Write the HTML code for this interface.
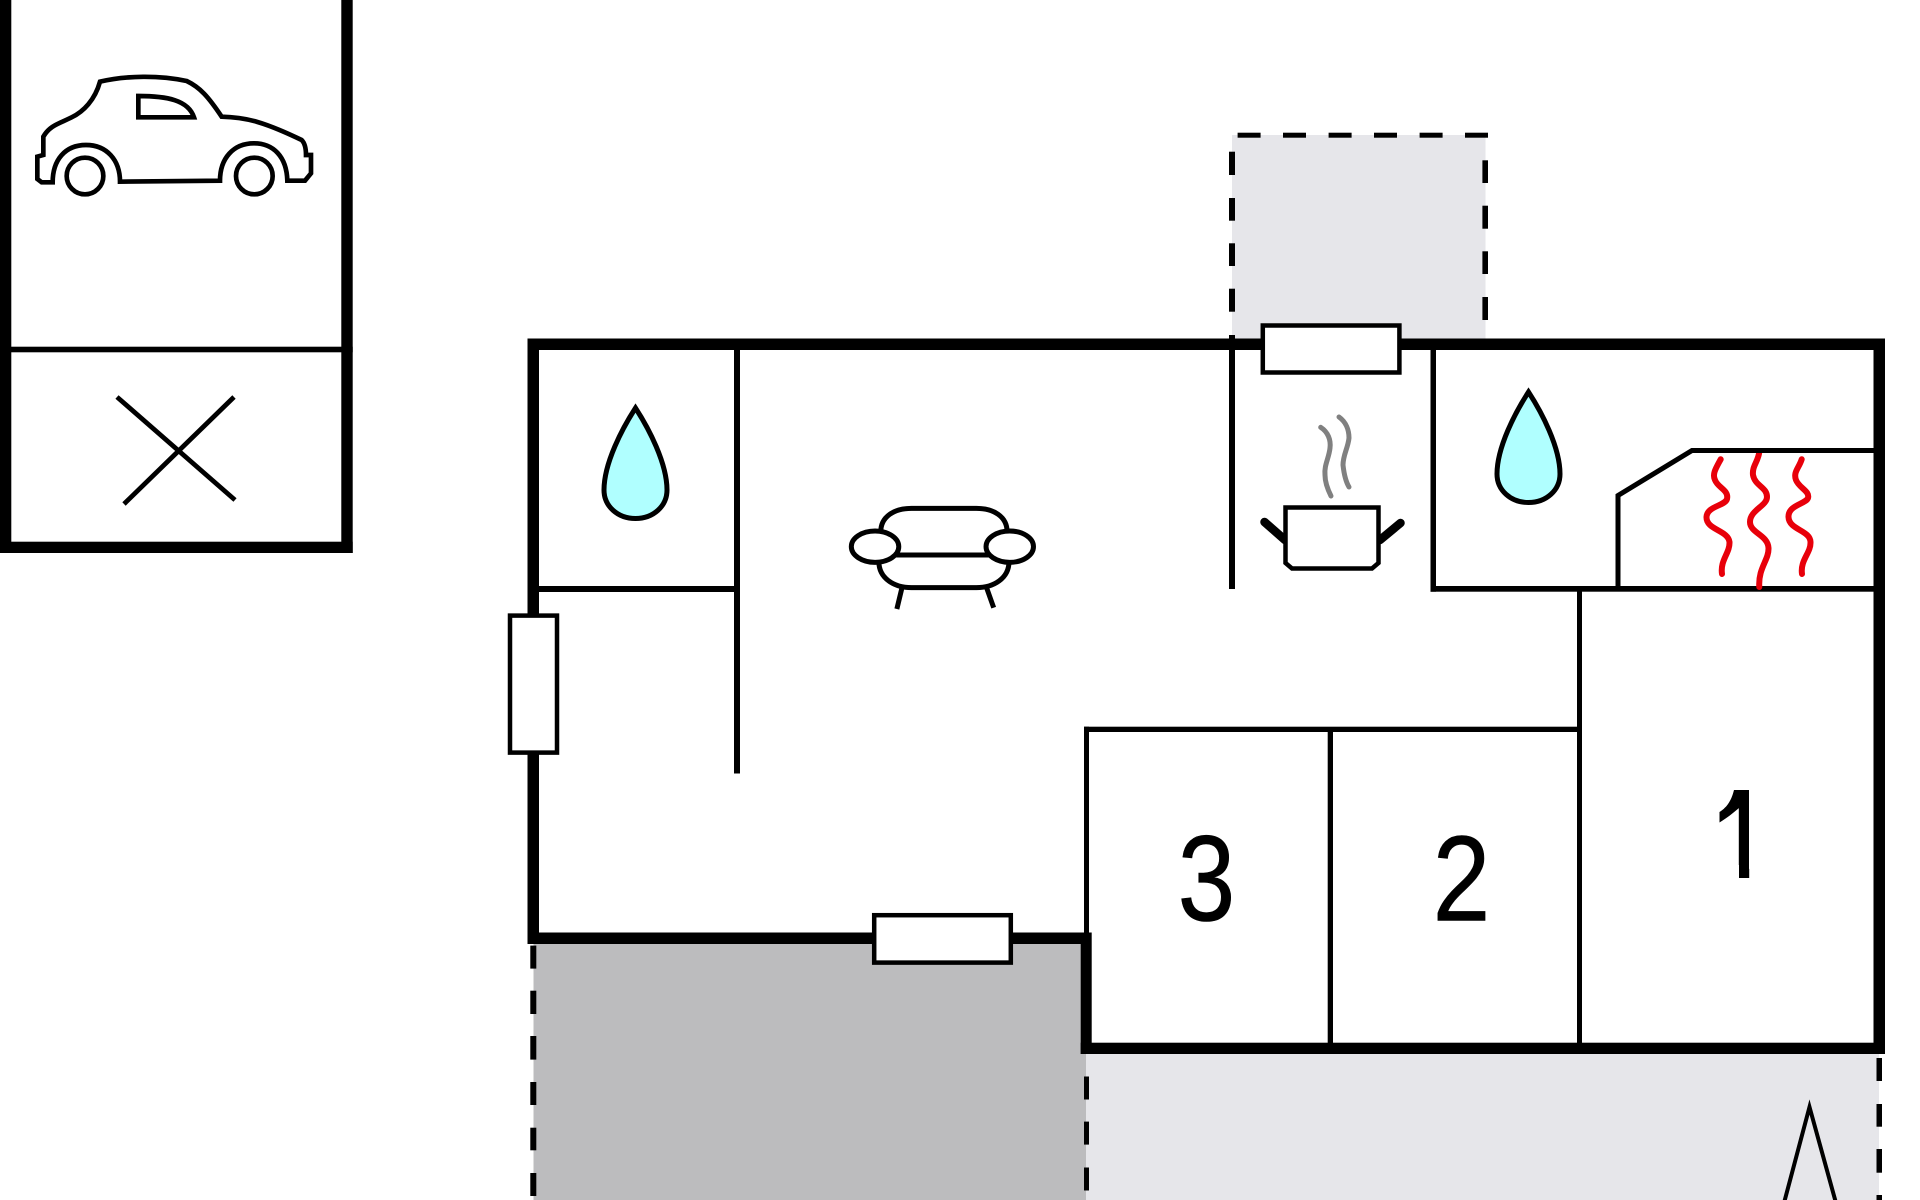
<!DOCTYPE html>
<html><head><meta charset="utf-8"><style>html,body{margin:0;padding:0;background:#fff}svg{display:block}</style></head>
<body>
<svg xmlns="http://www.w3.org/2000/svg" width="1920" height="1200" viewBox="0 0 1920 1200">
<rect width="1920" height="1200" fill="#fff"/>
<!-- areas -->
<rect x="1232" y="135" width="253.5" height="205" fill="#e6e6ea"/>
<rect x="1086" y="1050" width="793" height="150" fill="#e6e6ea"/>
<rect x="533.5" y="940" width="552.5" height="260" fill="#bcbcbe"/>
<!-- garage -->
<g fill="#000">
<rect x="0" y="0" width="11.3" height="553"/>
<rect x="341.3" y="0" width="11.4" height="553"/>
<rect x="0" y="541.7" width="352.7" height="11.3"/>
<rect x="0" y="346.7" width="352.7" height="5.6"/>
</g>
<path d="M117 397L235 500M234 397L124 504" stroke="#000" stroke-width="4.8" fill="none"/>
<g transform="scale(.33333)" fill="none" stroke="#000" stroke-width="14">
<path d="M130 465V410C150 375 180 370 215 352C250 335 285 300 300 245C380 226 480 226 560 243C600 262 625 290 665 350C740 352 790 365 905 420C915 430 918 445 918 465H933V520L915 542H862C860 470 820 430 762 430C700 430 660 475 660 542L360 545C360 480 320 435 258 435C195 435 158 480 158 547H125L112 537V470Z"/>
<path d="M415 288C500 288 565 300 582 352H415Z"/>
<circle cx="255" cy="528" r="55"/>
<circle cx="763" cy="528" r="55"/>
</g>
<!-- walls -->
<g fill="#000">
<rect x="527.5" y="338.5" width="1357.5" height="11.5"/>
<rect x="527.5" y="338.5" width="11.5" height="605.5"/>
<rect x="527.5" y="932.5" width="564" height="11.5"/>
<rect x="1080.7" y="932.5" width="11" height="121.5"/>
<rect x="1080.7" y="1042.7" width="804.3" height="11.3"/>
<rect x="1873.5" y="338.5" width="11.5" height="715.5"/>
<!-- partitions -->
<rect x="734" y="350" width="6" height="423.5"/>
<rect x="539" y="586" width="195" height="6"/>
<rect x="1229" y="335" width="6" height="254"/>
<rect x="1430.5" y="350" width="5.5" height="241.7"/>
<rect x="1430.5" y="586" width="443" height="5.7"/>
<rect x="1577" y="590" width="5" height="453"/>
<rect x="1084" y="726.7" width="494" height="5.3"/>
<rect x="1084" y="726.7" width="5" height="206"/>
<rect x="1327.7" y="732" width="5.3" height="311"/>
<!-- dashes top area -->
<rect x="1237.6" y="132.7" width="23" height="5"/>
<rect x="1283" y="132.7" width="23" height="5"/>
<rect x="1328.6" y="132.7" width="23" height="5"/>
<rect x="1374" y="132.7" width="23" height="5"/>
<rect x="1419.6" y="132.7" width="23" height="5"/>
<rect x="1465" y="132.7" width="23" height="5"/>
<rect x="1229" y="151.7" width="6" height="23.3"/>
<rect x="1229" y="198" width="6" height="22.7"/>
<rect x="1229" y="243.3" width="6" height="22.7"/>
<rect x="1229" y="288.7" width="6" height="23"/>
<rect x="1482.4" y="160.3" width="5.6" height="22.7"/>
<rect x="1482.4" y="205.7" width="5.6" height="23"/>
<rect x="1482.4" y="251.3" width="5.6" height="22.7"/>
<rect x="1482.4" y="297" width="5.6" height="23"/>
<!-- dashes left -->
<rect x="530.3" y="945.6" width="6" height="23"/>
<rect x="530.3" y="990.7" width="6" height="23.3"/>
<rect x="530.3" y="1036" width="6" height="23.6"/>
<rect x="530.3" y="1082" width="6" height="23"/>
<rect x="530.3" y="1127.7" width="6" height="22.6"/>
<rect x="530.3" y="1173" width="6" height="23"/>
<!-- dashes middle -->
<rect x="1084" y="1076.5" width="5" height="23"/>
<rect x="1084" y="1121.6" width="5" height="23"/>
<rect x="1084" y="1167.5" width="5" height="23"/>
<!-- dashes right -->
<rect x="1876.5" y="1058" width="5.5" height="23"/>
<rect x="1876.5" y="1104" width="5.5" height="22.7"/>
<rect x="1876.5" y="1149" width="5.5" height="23.7"/>
<rect x="1876.5" y="1195" width="5.5" height="5"/>
</g>
<!-- windows -->
<g fill="#fff" stroke="#000" stroke-width="4.5">
<rect x="510" y="615.6" width="47" height="137"/>
<rect x="874.2" y="915.2" width="136.6" height="47.4"/>
<rect x="1262.8" y="325.5" width="136.6" height="47"/>
</g>
<!-- drops -->
<g fill="#b0ffff" stroke="#000" stroke-width="5" stroke-linejoin="miter">
<path transform="translate(635.5 408)" d="M0 0C13 20 31.5 55 31.5 82C31.5 98 18 110.5 0 110.5C-18 110.5 -31.5 98 -31.5 82C-31.5 55 -13 20 0 0Z"/>
<path transform="translate(1528.5 392)" d="M0 0C13 20 31.5 55 31.5 82C31.5 98 18 110.5 0 110.5C-18 110.5 -31.5 98 -31.5 82C-31.5 55 -13 20 0 0Z"/>
</g>
<!-- sofa -->
<g transform="translate(500 320) scale(.3827 .33333)" fill="none" stroke="#000">
<path vector-effect="non-scaling-stroke" stroke-width="5" d="M995 635C995 590 1030 565 1075 565H1245C1290 565 1325 590 1325 635"/>
<path vector-effect="non-scaling-stroke" stroke-width="5" d="M990 725C990 775 1030 803 1075 803H1245C1290 803 1330 775 1330 725"/>
<path vector-effect="non-scaling-stroke" stroke-width="5" d="M1035 705H1280"/>
<ellipse vector-effect="non-scaling-stroke" stroke-width="5" cx="980" cy="680" rx="62" ry="47" fill="#fff"/>
<ellipse vector-effect="non-scaling-stroke" stroke-width="5" cx="1332" cy="680" rx="62" ry="47" fill="#fff"/>
<path vector-effect="non-scaling-stroke" stroke-width="5" d="M1050 805L1037 867M1272 805L1290 863"/>
</g>
<!-- pot -->
<path d="M1264.5 522L1285 540M1400.5 523L1380 540" stroke="#000" stroke-width="8.5" stroke-linecap="round" fill="none"/>
<path d="M1285.5 507.5H1378.5V563L1372 568.5H1292L1285.5 563Z" fill="#fff" stroke="#000" stroke-width="4.5"/>
<g fill="none" stroke="#808080" stroke-width="5" stroke-linecap="round">
<path d="M1320.7 427.3C1328 432 1331 440 1330 448C1329 458 1324 465 1325 475C1325 483 1328 490 1331 496"/>
<path d="M1339 417C1346 422 1349 430 1349 438C1348 448 1343 455 1343 465C1344 474 1346 482 1349 487"/>
</g>
<!-- heat -->
<g fill="none" stroke="#e8000a" stroke-width="6" stroke-linecap="round">
<path d="M1720.7 459.3C1716 468 1712 474 1715 480C1718 488 1729 490 1727 499C1725 506 1707 506 1706.5 517C1706 530 1728 530 1729.5 542C1730 553 1720 560 1722 574"/>
<path d="M1759.3 452C1758 462 1752 466 1753 475C1755 486 1767 487 1767 497C1767 506 1750 510 1750 522C1750 533 1768 535 1768.5 548C1769 560 1758 568 1759.3 587"/>
<path d="M1801.7 459.3C1799 468 1793 472 1796 480C1799 488 1810 491 1808 498C1806 504 1788 505 1788.5 517C1789 530 1810 530 1810.5 542C1811 553 1800 560 1802 574"/>
</g>
<!-- boiler outline -->
<path d="M1618 589V495.5L1692 450.5H1874" fill="none" stroke="#000" stroke-width="5"/>
<!-- arrow -->
<path d="M1784 1203L1809.5 1107L1836 1203" fill="none" stroke="#000" stroke-width="4"/>
<!-- numbers -->
<g font-family="'Liberation Sans',sans-serif" font-size="122" fill="#000" text-anchor="middle">
<text transform="translate(1206.5 920.5) scale(.85 1)" stroke="#000" stroke-width=".6">3</text>
<text transform="translate(1461.5 920.5) scale(.85 1)" stroke="#000" stroke-width=".6">2</text>
<text transform="translate(1741.3 878) scale(.78 1)">1</text>
</g>
<!-- trim the 1 to match the reference glyph -->
<rect x="1700" y="865" width="39" height="15" fill="#fff"/>
<rect x="1749.2" y="785" width="32" height="95" fill="#fff"/>
<path d="M1700 785H1739V790H1737C1732 802 1726 808 1719 812H1700Z" fill="#fff"/>
<path d="M1749 790H1734C1731 802 1726 808 1719.5 812V822.5C1727 818 1733 813 1739 808V877.5H1749Z" fill="#000"/>
</svg>
</body></html>
